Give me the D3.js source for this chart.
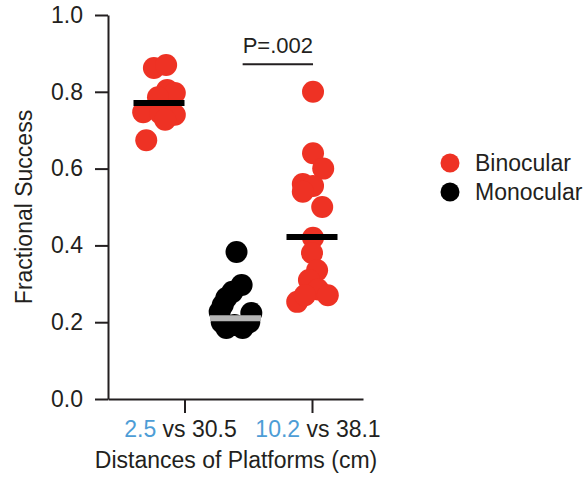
<!DOCTYPE html>
<html>
<head>
<meta charset="utf-8">
<script src="https://cdn.jsdelivr.net/npm/d3@7"></script>
<style>
  body { margin: 0; background: #fff; }
  svg { font-family: "Liberation Sans", Arial, sans-serif; }
</style>
</head>
<body>
<svg width="587" height="481"></svg>
<script>
// values
var binoNear = [0.862, 0.870, 0.805, 0.797, 0.786, 0.747, 0.745, 0.740, 0.727, 0.674];
var binoNearJit = [-0.10, 0.14, 0.16, 0.31, -0.02, -0.31, 0.02, 0.31, 0.12, -0.25];
var monoNear = [0.383, 0.297, 0.279, 0.263, 0.245, 0.227, 0.224, 0.200, 0.193, 0.200, 0.185, 0.185];
var monoNearJit = [0.02, 0.12, -0.06, -0.18, -0.25, -0.31, 0.31, -0.27, -0.02, 0.27, -0.18, 0.14];
var binoFar = [0.80, 0.64, 0.60, 0.56, 0.555, 0.54, 0.50, 0.42, 0.38, 0.335, 0.31, 0.285, 0.27, 0.253, 0.27];
var binoFarJit = [0.02, 0.02, 0.22, -0.18, 0.02, -0.18, 0.20, 0.02, 0, 0.10, -0.06, 0.12, 0.31, -0.29, -0.14];
var groupPos = [1, 2.5, 4];
var centerLines = [0.771, 0.21, 0.422];
var tickPos = [1.5, 4];
var tickLabels = [["2.5", " vs 30.5"], ["10.2", " vs 38.1"]];
var yTicks = [0, 0.2, 0.4, 0.6, 0.8, 1.0];
var seriesNames = ["Binocular", "Monocular"];

var red = "#ee3224", black = "#000000", grey = "#b5b5b5", blue = "#4d9dd6", ink = "#231f20";

var svg = d3.select("svg");
var x = d3.scaleLinear().domain([0, 5]).range([108, 363]);
var y = d3.scaleLinear().domain([0, 1]).range([399, 15]);
var color = d3.scaleOrdinal().domain(seriesNames).range([red, black]);

var groups = [
  {vals: binoNear, jit: binoNearJit, s: "Binocular", pos: groupPos[0], line: centerLines[0], lineColor: black},
  {vals: monoNear, jit: monoNearJit, s: "Monocular", pos: groupPos[1], line: centerLines[1], lineColor: grey},
  {vals: binoFar, jit: binoFarJit, s: "Binocular", pos: groupPos[2], line: centerLines[2], lineColor: black}
];

groups.forEach(function(gr) {
  svg.append("g").selectAll("circle")
    .data(gr.vals)
    .enter()
    .append("circle")
    .attr("cx", function(d, i) { return x(gr.pos + gr.jit[i]); })
    .attr("cy", function(d) { return y(d); })
    .attr("r", 11)
    .attr("fill", color(gr.s));
});

// mean / median bars
svg.append("g").selectAll("line")
  .data(groups)
  .enter()
  .append("line")
  .attr("x1", function(d) { return x(d.pos - 0.5); })
  .attr("x2", function(d) { return x(d.pos + 0.5); })
  .attr("y1", function(d) { return y(d.line); })
  .attr("y2", function(d) { return y(d.line); })
  .attr("stroke", function(d) { return d.lineColor; })
  .attr("stroke-width", 6);

// axes
var yAxis = svg.append("g")
  .attr("transform", "translate(" + x(0) + ",0)")
  .call(d3.axisLeft(y).tickValues(yTicks).tickFormat(d3.format(".1f"))
    .tickSize(13).tickSizeOuter(0).tickPadding(12));

var xAxis = svg.append("g")
  .attr("transform", "translate(0," + y(0) + ")")
  .call(d3.axisBottom(x).tickValues(tickPos).tickFormat("")
    .tickSize(14).tickSizeOuter(0));

[yAxis, xAxis].forEach(function(a) {
  a.select(".domain").attr("stroke", ink).attr("stroke-width", 2);
  a.selectAll(".tick line").attr("stroke", ink).attr("stroke-width", 2);
  a.selectAll("text").attr("fill", ink).style("font-size", "23px");
});

// two-colour tick labels, nudged like the original
var labelShift = [-4, 6];
var xl = svg.append("g").selectAll("text")
  .data(tickPos)
  .enter()
  .append("text")
  .attr("x", function(d, i) { return x(d) + labelShift[i]; })
  .attr("y", 437)
  .attr("text-anchor", "middle")
  .style("font-size", "23px")
  .attr("fill", ink);
xl.append("tspan").attr("fill", blue).text(function(d, i) { return tickLabels[i][0]; });
xl.append("tspan").text(function(d, i) { return tickLabels[i][1]; });

svg.append("text")
  .attr("x", 236)
  .attr("y", 468)
  .attr("text-anchor", "middle")
  .style("font-size", "23px")
  .attr("fill", ink)
  .text("Distances of Platforms (cm)");

svg.append("text")
  .attr("transform", "translate(32,207) rotate(-90)")
  .attr("text-anchor", "middle")
  .style("font-size", "23px")
  .attr("fill", ink)
  .text("Fractional Success");

// significance bar
svg.append("line")
  .attr("x1", x(2.64)).attr("x2", x(4.02))
  .attr("y1", y(0.872)).attr("y2", y(0.872))
  .attr("stroke", ink).attr("stroke-width", 2);
svg.append("text")
  .attr("x", (x(2.64) + x(4.02)) / 2)
  .attr("y", y(0.902))
  .attr("text-anchor", "middle")
  .style("font-size", "22px")
  .attr("fill", ink)
  .text("P=.002");

// legend
var leg = svg.append("g").selectAll("g")
  .data(seriesNames)
  .enter()
  .append("g")
  .attr("transform", function(d, i) { return "translate(450," + (163 + i * 29) + ")"; });
leg.append("circle").attr("r", 9.5).attr("fill", function(d) { return color(d); });
leg.append("text")
  .attr("x", 25)
  .attr("dy", "0.35em")
  .style("font-size", "23px")
  .attr("fill", ink)
  .text(function(d) { return d; });
</script>
</body>
</html>
